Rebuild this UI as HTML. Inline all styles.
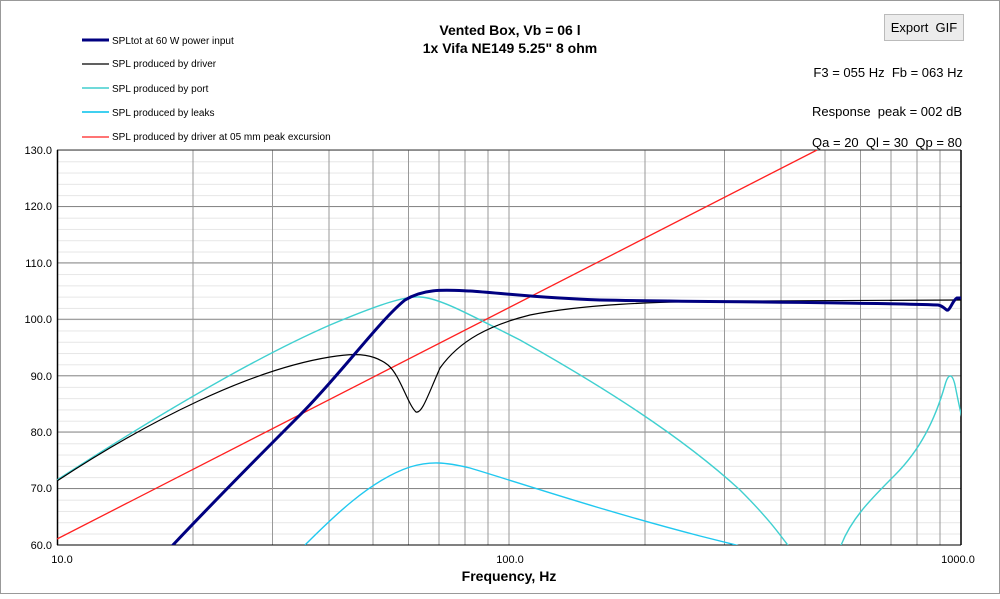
<!DOCTYPE html>
<html><head><meta charset="utf-8"><style>
body{margin:0;background:#fff;}
svg text{font-family:"Liberation Sans",Arial,sans-serif;white-space:pre;}
</style></head><body>
<svg width="1000" height="594" xmlns="http://www.w3.org/2000/svg">
<rect x="0.5" y="0.5" width="999" height="593" fill="#fff" stroke="#999"/>
<defs><pattern id="mg" x="0" y="150" width="10" height="11.28" patternUnits="userSpaceOnUse"><line x1="0" y1="0.5" x2="10" y2="0.5" stroke="#e6e6e6" stroke-width="1"/></pattern></defs>
<rect x="57" y="150" width="904" height="395" fill="url(#mg)"/>
<g stroke="#888" stroke-width="1">
<line x1="57" x2="961" y1="206.5" y2="206.5"/><line x1="57" x2="961" y1="262.9" y2="262.9"/><line x1="57" x2="961" y1="319.3" y2="319.3"/><line x1="57" x2="961" y1="375.7" y2="375.7"/><line x1="57" x2="961" y1="432" y2="432"/><line x1="57" x2="961" y1="488.5" y2="488.5"/>
</g>
<g stroke="#999" stroke-width="1">
<line x1="193" x2="193" y1="150" y2="545"/><line x1="272.5" x2="272.5" y1="150" y2="545"/><line x1="329" x2="329" y1="150" y2="545"/><line x1="373" x2="373" y1="150" y2="545"/><line x1="408.5" x2="408.5" y1="150" y2="545"/><line x1="439" x2="439" y1="150" y2="545"/><line x1="465" x2="465" y1="150" y2="545"/><line x1="488" x2="488" y1="150" y2="545"/><line x1="509" x2="509" y1="150" y2="545"/>
<line x1="645" x2="645" y1="150" y2="545"/><line x1="724.5" x2="724.5" y1="150" y2="545"/><line x1="781" x2="781" y1="150" y2="545"/><line x1="825" x2="825" y1="150" y2="545"/><line x1="860.5" x2="860.5" y1="150" y2="545"/><line x1="891" x2="891" y1="150" y2="545"/><line x1="917" x2="917" y1="150" y2="545"/><line x1="940" x2="940" y1="150" y2="545"/>
</g>
<line x1="57" y1="150" x2="961" y2="150" stroke="#333"/>
<line x1="57" y1="545" x2="961" y2="545" stroke="#000"/>
<line x1="57.5" y1="150" x2="57.5" y2="545" stroke="#000" stroke-width="1.5"/>
<line x1="961" y1="150" x2="961" y2="545" stroke="#000" stroke-width="1.5"/>
<clipPath id="c"><rect x="57" y="150" width="904" height="395"/></clipPath>
<g clip-path="url(#c)" fill="none">
<line x1="57" y1="539" x2="817" y2="150" stroke="#ff2020" stroke-width="1.3"/>
<path d="M305,545 C330,520 370,480 410,467 C430,461 445,462 470,468 C520,483 600,510 700,536 L740,546" stroke="#20c8f0" stroke-width="1.4"/>
<path d="M57,480 C150,420 250,360 330,325 C380,304 405,296 420,297 C440,298 470,315 520,340 C600,385 680,435 740,490 C770,520 780,535 790,548" stroke="#40d0d0" stroke-width="1.4"/>
<path d="M840,548 C850,520 870,500 895,475 C920,450 935,420 945,385 C948,374 952,372 955,385 C958,400 960,410 962,418" stroke="#40d0d0" stroke-width="1.4"/>
<path d="M57,481 C150,420 250,370 330,357 C360,352 375,355 388,365 C400,375 408,405 416,412 C422,414 428,395 440,368 C460,340 490,325 530,315 C580,305 650,301 750,301 L961,300" stroke="#000" stroke-width="1.2"/>
<path d="M172,546 C220,495 270,445 300,415 C340,375 380,320 405,300 C425,288 445,290 470,291 C500,293 540,298 600,300 C700,302 850,302 938,305 C944,306 946,311 948,310 C951,308 953,300 957,298 L962,298" stroke="#000080" stroke-width="3"/>
</g>
<g font-size="11" fill="#000" text-anchor="end">
<text x="52" y="154">130.0</text><text x="52" y="210">120.0</text><text x="52" y="267">110.0</text><text x="52" y="323">100.0</text><text x="52" y="380">90.0</text><text x="52" y="436">80.0</text><text x="52" y="492">70.0</text><text x="52" y="549">60.0</text>
</g>
<g font-size="11" fill="#000" text-anchor="middle">
<text x="62" y="563">10.0</text><text x="510" y="563">100.0</text><text x="958" y="563">1000.0</text>
</g>
<text x="509" y="581" font-size="14" font-weight="bold" text-anchor="middle">Frequency, Hz</text>
<text x="510" y="35" font-size="14" font-weight="bold" text-anchor="middle">Vented Box, Vb = 06 l</text>
<text x="510" y="53" font-size="14" font-weight="bold" text-anchor="middle">1x Vifa NE149 5.25" 8 ohm</text>
<g font-size="10">
<line x1="82" y1="40" x2="109" y2="40" stroke="#000080" stroke-width="3"/><text x="112" y="44">SPLtot at 60 W power input</text>
<line x1="82" y1="64" x2="109" y2="64" stroke="#000" stroke-width="1.2"/><text x="112" y="67">SPL produced by driver</text>
<line x1="82" y1="88" x2="109" y2="88" stroke="#70dada" stroke-width="2"/><text x="112" y="92">SPL produced by port</text>
<line x1="82" y1="112" x2="109" y2="112" stroke="#40d0f0" stroke-width="2"/><text x="112" y="116">SPL produced by leaks</text>
<line x1="82" y1="137" x2="109" y2="137" stroke="#ff2020" stroke-width="1.2"/><text x="112" y="140">SPL produced by driver at 05 mm peak excursion</text>
</g>
<rect x="884.5" y="14.5" width="79" height="26" fill="#ececec" stroke="#bbb"/>
<text x="924" y="32" font-size="13" text-anchor="middle">Export&#160; GIF</text>
<g font-size="13" text-anchor="end">
<text x="963" y="77">F3 = 055 Hz&#160; Fb = 063 Hz</text>
<text x="962" y="116">Response&#160; peak = 002 dB</text>
<text x="962" y="147">Qa = 20&#160; Ql = 30&#160; Qp = 80</text>
</g>
</svg>
</body></html>
